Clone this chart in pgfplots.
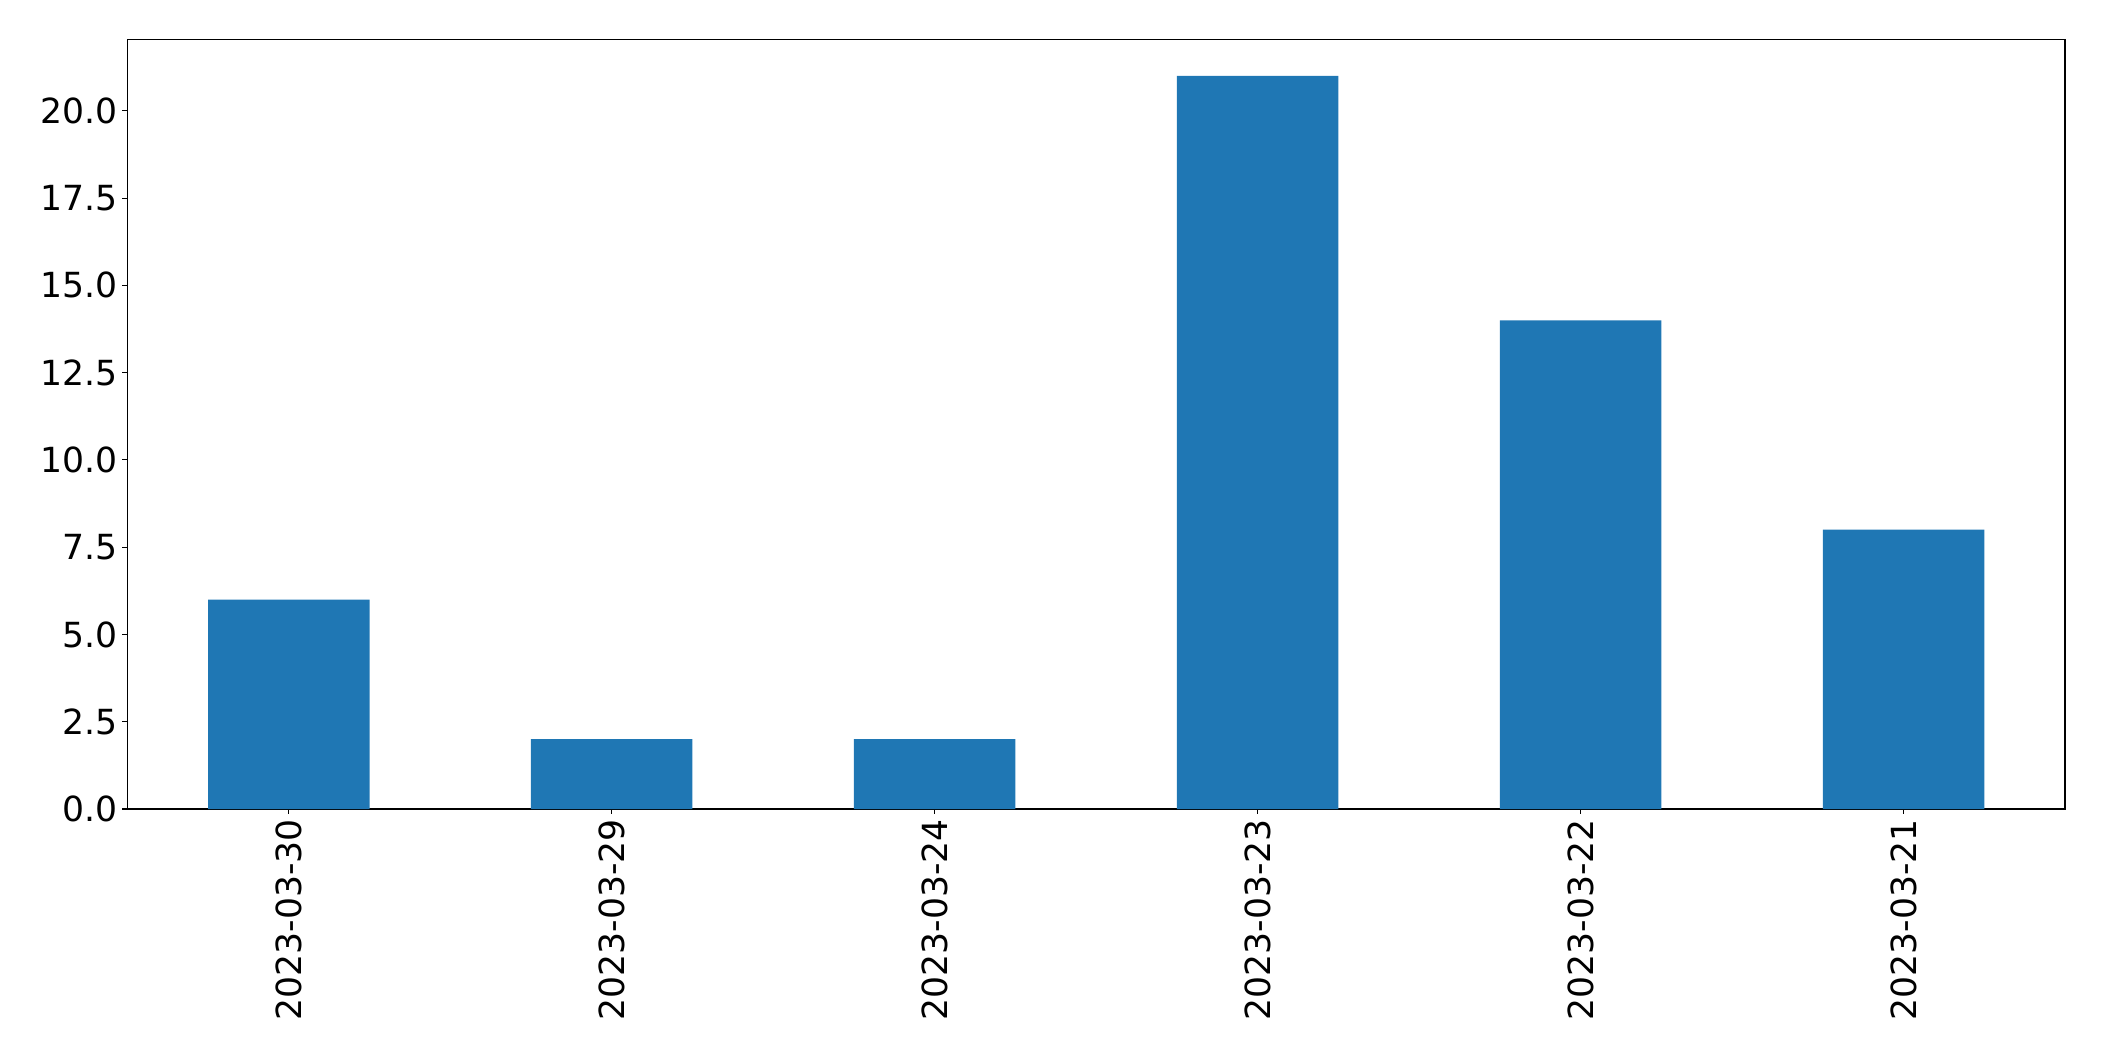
\documentclass[border=0pt]{standalone}
\usepackage{pgfplots}
\pgfplotsset{compat=1.18}
\usepackage{fontspec}
\setmainfont{DejaVu Sans}
\definecolor{mplblue}{HTML}{1F77B4}
\begin{document}
\begin{tikzpicture}
\begin{axis}[
  at={(0,0)}, anchor=south west,
  scale only axis,
  width=968.85pt, height=384.85pt,
  xmin=-0.5, xmax=5.5,
  ymin=0, ymax=22.05,
  xtick={0,1,2,3,4,5},
  xticklabels={2023-03-30,2023-03-29,2023-03-24,2023-03-23,2023-03-22,2023-03-21},
  ytick={0,2.5,5,7.5,10,12.5,15,17.5,20},
  y tick label style={/pgf/number format/fixed, /pgf/number format/fixed zerofill, /pgf/number format/precision=1, /pgf/number format/assume math mode=true},
  tick align=outside,
  major tick length=2.43pt,
  tick style={black, line width=0.55pt},
  axis line style={line width=0.55pt},
  xtick pos=bottom, ytick pos=left,
  tick label style={font=\fontsize{17.3}{20}\selectfont},
  xticklabel style={rotate=90, anchor=east, inner sep=2.4pt},
  yticklabel style={inner sep=2.4pt},
  ybar, bar width=0.5,
]
\addplot[fill=mplblue, draw=none] coordinates {(0,6) (1,2) (2,2) (3,21) (4,14) (5,8)};
\end{axis}
\path[use as bounding box] (-63.65pt,-126pt) rectangle (988.35pt,404.5pt);
\end{tikzpicture}
\end{document}
